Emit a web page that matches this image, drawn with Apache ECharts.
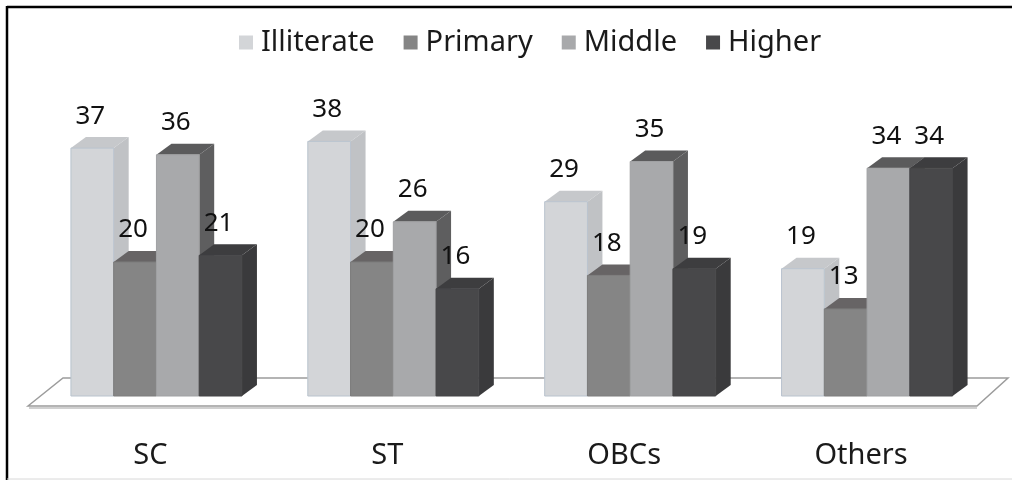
<!DOCTYPE html>
<html>
<head>
<meta charset="utf-8">
<script src="https://cdn.jsdelivr.net/npm/echarts@6/dist/echarts.min.js"></script>
<style>
html,body{margin:0;padding:0;background:#fff;}
#chart{width:1012px;height:480px;}
</style>
</head>
<body>
<div id="chart"></div>
<script>
const categories = ['SC', 'ST', 'OBCs', 'Others'];
const seriesNames = ['Illiterate', 'Primary', 'Middle', 'Higher'];
const illiterate = [37, 38, 29, 19];
const primary = [20, 20, 18, 13];
const middle = [36, 26, 35, 34];
const higher = [21, 16, 19, 34];

const values = [illiterate, primary, middle, higher];
const palette = [
  { front: '#d3d5d8', top: '#c6c8cb', side: '#c0c2c5', edge: '#b9c3ce' },
  { front: '#858585', top: '#676465', side: '#5f5d5e', edge: '#7c7c7c' },
  { front: '#a8a9ab', top: '#5b5b5c', side: '#5e5e5f', edge: '#a0a1a3' },
  { front: '#48484a', top: '#3d3d3f', side: '#3a3a3c', edge: '#444446' }
];
const GAP = 0.278;
const DX = 15, DY = 11;
const FONT = '"Noto Sans", "Open Sans", sans-serif';

function makeRender(si) {
  const c = palette[si];
  return function (params, api) {
    const cat = api.value(0), val = api.value(1);
    const base = api.coord([cat, 0]);
    const topPt = api.coord([cat, val]);
    const band = api.size([1, 0])[0];
    const gw = band * (1 - GAP);
    const bw = gw / 4;
    const x0 = base[0] - gw / 2 + si * bw;
    const x1 = x0 + bw;
    const yB = base[1], yT = topPt[1];
    return {
      type: 'group',
      children: [
        { type: 'polygon', shape: { points: [[x1, yT], [x1 + DX, yT - DY], [x1 + DX, yB - DY], [x1, yB]] },
          style: { fill: c.side } },
        { type: 'polygon', shape: { points: [[x0, yT], [x1, yT], [x1 + DX, yT - DY], [x0 + DX, yT - DY]] },
          style: { fill: c.top } },
        { type: 'rect', shape: { x: x0, y: yT, width: bw, height: yB - yT },
          style: { fill: c.front, stroke: c.edge, lineWidth: 1 } },
        { type: 'text', style: { text: String(val), x: (x0 + x1) / 2 - 2, y: yT - 32,
          align: 'center', verticalAlign: 'middle', fill: '#111111',
          font: '26px ' + FONT } }
      ]
    };
  };
}

const chart = echarts.init(document.getElementById('chart'), null, { renderer: 'canvas' });
const series = seriesNames.map((name, si) => ({
  name: name,
  type: 'custom',
  renderItem: makeRender(si),
  itemStyle: { color: palette[si].front },
  encode: { x: 0, y: 1 },
  data: values[si].map((v, i) => [i, v]),
  z: 3
}));

chart.setOption({
  animation: false,
  backgroundColor: '#ffffff',
  textStyle: { fontFamily: FONT },
  legend: {
    data: seriesNames,
    left: 234, top: 23,
    icon: 'rect', itemWidth: 14, itemHeight: 14, itemGap: 29,
    textStyle: { fontSize: 29, color: '#1a1a1a', fontFamily: FONT, padding: [0, 0, 0, 3] }
  },
  grid: { left: 38, right: 26.5, top: 128, bottom: 84, containLabel: false },
  xAxis: {
    type: 'category', data: categories,
    axisLine: { show: false }, axisTick: { show: false }, splitLine: { show: false },
    axisLabel: { fontSize: 29, lineHeight: 30, margin: 45, color: '#1a1a1a', fontFamily: FONT,
      padding: [0, 12, 0, 0] }
  },
  yAxis: { type: 'value', min: 0, max: 40, show: false, splitLine: { show: false } },
  graphic: [
    { type: 'polygon', z: 1, shape: { points: [[28, 406], [63, 378], [1008, 378], [977, 406]] },
      style: { fill: '#ffffff', stroke: '#9c9c9c', lineWidth: 1.5 } },
    { type: 'line', z: 1, shape: { x1: 29, y1: 408, x2: 977, y2: 408 },
      style: { stroke: '#d0d0d0', lineWidth: 2 } },
    { type: 'line', z: 10, shape: { x1: 7, y1: 7, x2: 1012, y2: 7 }, style: { stroke: '#000', lineWidth: 2.5 } },
    { type: 'line', z: 10, shape: { x1: 7, y1: 6, x2: 7, y2: 480 }, style: { stroke: '#000', lineWidth: 2.5 } },
    { type: 'line', z: 10, shape: { x1: 7, y1: 479, x2: 1012, y2: 479 }, style: { stroke: '#d8d8d8', lineWidth: 1 } }
  ],
  series: series
});
</script>
</body>
</html>
